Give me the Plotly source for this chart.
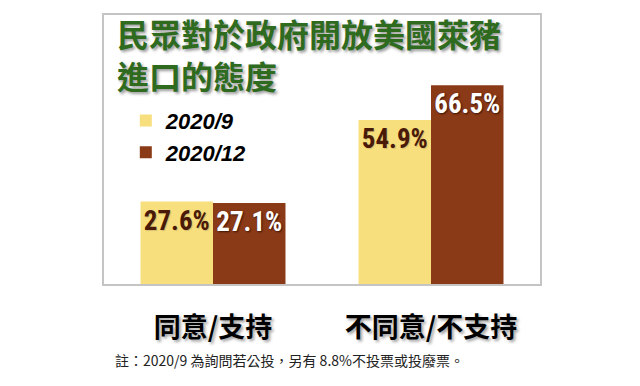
import plotly.graph_objects as go

categories = ["同意/支持", "不同意/不支持"]
series_names = ["2020/9", "2020/12"]
values_sep = [27.6, 54.9]
values_dec = [27.1, 66.5]
title_lines = ["民眾對於政府開放美國萊豬", "進口的態度"]
note_text = "註：2020/9 為詢問若公投，另有 8.8%不投票或投廢票。"

yellow = "#F7DF7D"
brown = "#8B3A17"
narrow = "Liberation Sans Narrow, Roboto Condensed, Arial Narrow, sans-serif"
cjk = "Noto Sans CJK TC, Noto Sans CJK SC, sans-serif"

fig = go.Figure()
fig.add_trace(go.Bar(
    x=categories, y=values_sep, name=series_names[0], marker_color=yellow,
    marker_line_width=0,
    texttemplate="%{y:.1f}%", textposition="inside", insidetextanchor="end",
    textangle=0, constraintext="none",
    textfont=dict(family=narrow, size=27, color="#4A1A08", weight="bold",
                  shadow="1px 1px 1px #d8c070"),
    legendgroup="a",
))
fig.add_trace(go.Bar(
    x=categories, y=values_dec, name=series_names[1], marker_color=brown,
    marker_line_width=0,
    texttemplate="%{y:.1f}%", textposition="inside", insidetextanchor="end",
    textangle=0, constraintext="none",
    textfont=dict(family=narrow, size=27, color="white", weight="bold",
                  shadow="1px 1px 2px #3a1405"),
    legendgroup="b",
))

title_font = dict(family=cjk, size=32, color="#2E6B1F", weight="bold",
                  shadow="2px 2px 3px #9a9a9a")

fig.update_layout(
    width=640, height=386,
    margin=dict(l=104, r=100, t=15, b=102),
    paper_bgcolor="white", plot_bgcolor="white",
    barmode="group", bargap=0.335, bargroupgap=0,
    showlegend=True,
    legend=dict(
        x=0.05, y=0.685, xanchor="left", yanchor="top",
        bgcolor="rgba(0,0,0,0)", tracegroupgap=0,
        font=dict(family="Liberation Sans, Arial, sans-serif", size=22,
                  color="black", weight="bold", style="italic"),
    ),
    xaxis=dict(
        showline=True, mirror=True, linecolor="#C4C4C4", linewidth=1.5,
        ticks="", ticklabelstandoff=19,
        tickfont=dict(family=cjk, size=27, color="black", weight="bold",
                      shadow="2px 2px 3px #a0a0a0"),
    ),
    yaxis=dict(
        range=[0, 90], showline=True, mirror=True, linecolor="#C4C4C4",
        linewidth=1.5, showgrid=False, zeroline=False, showticklabels=False,
        ticks="",
    ),
    annotations=[
        dict(text="<br>".join(title_lines), xref="paper", yref="paper",
             x=(115 - 104) / 436, xanchor="left", align="left",
             y=1 - (8 - 15) / 269, yanchor="top",
             showarrow=False, font=title_font),
        dict(text=note_text, xref="paper", yref="paper",
             x=(113 - 104) / 436, xanchor="left",
             y=-(360 - 284) / 269, yanchor="middle",
             showarrow=False,
             font=dict(family=cjk, size=14, color="#222222")),
    ],
)

fig.write_html(
    "out.html",
    config={"displayModeBar": False},
    post_script="document.body.style.margin='0px';document.body.style.overflow='hidden';",
)
